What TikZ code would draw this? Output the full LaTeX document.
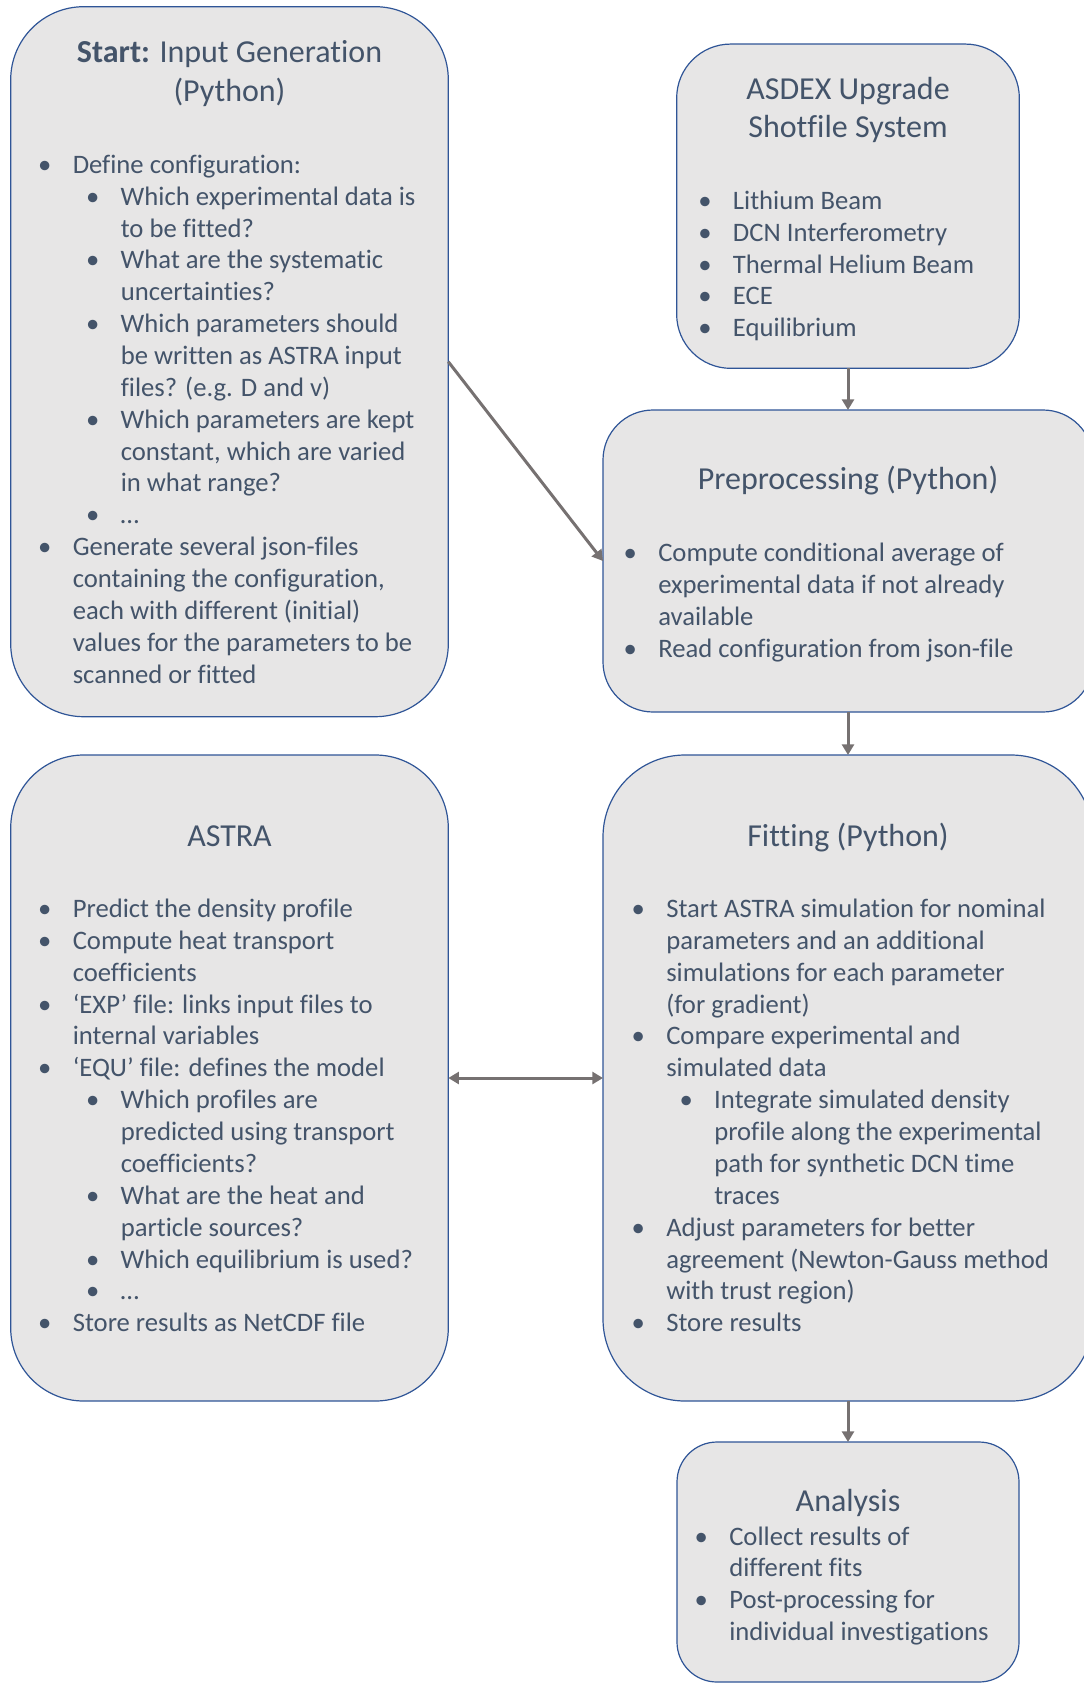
\documentclass[tikz,border=0pt]{standalone}
\usepackage{fontspec}
\setmainfont{Carlito}[Ligatures=NoCommon]
\usetikzlibrary{arrows.meta}
\definecolor{boxgray}{HTML}{E7E6E6}
\definecolor{boxblue}{HTML}{2F5597}
\definecolor{txtblue}{HTML}{44546A}
\definecolor{arrgray}{HTML}{767171}
\newcommand\bodyfont{\fontsize{20pt}{23.9pt}\selectfont}
\newcommand\headfont{\fontsize{24pt}{28.8pt}\selectfont}
\newcommand\lvla[1]{\par\leftskip=0pt\noindent\llap{\textbullet\hspace{16pt}}#1}
\newcommand\lvlb[1]{\par\leftskip=36pt\noindent\llap{\textbullet\hspace{16pt}}#1}
\newcommand\blist[1]{\parbox[t]{330pt}{\bodyfont\raggedright #1}}
\newcommand\bhead[1]{\parbox[t]{330pt}{\headfont\centering #1}}

\begin{document}
\begin{tikzpicture}[x=0.75pt, y=-0.75pt,
  box/.style={draw=boxblue, fill=boxgray, line width=0.9pt, inner sep=0pt, outer sep=0pt},
  txt/.style={inner sep=0pt, text=txtblue},
  arr/.style={draw=arrgray, line width=2.25pt, -{Triangle[length=8pt,width=9pt]}},
  darr/.style={arr, {Triangle[length=8pt,width=9pt]}-{Triangle[length=8pt,width=9pt]}}]
  \useasboundingbox (0,0) rectangle (1084,1684);

  % boxes
  \node[box, minimum width=328.2pt, minimum height=532.5pt, rounded corners=54.75pt] (start) at (229.5,361.7) {};
  \node[box, minimum width=257pt, minimum height=243.2pt, rounded corners=40.5pt] (asdex) at (848,206.2) {};
  \node[box, minimum width=367.5pt, minimum height=226.5pt, rounded corners=37.5pt] (prep) at (848,561) {};
  \node[box, minimum width=328.2pt, minimum height=484.5pt, rounded corners=54.75pt] (astra) at (229.5,1078) {};
  \node[box, minimum width=367.5pt, minimum height=484.5pt, rounded corners=61.5pt] (fit) at (848,1078) {};
  \node[box, minimum width=256.5pt, minimum height=180pt, rounded corners=30pt] (ana) at (848,1562) {};

  % texts
  \node[txt, anchor=base] (starttitle) at (229.5,62.7) {\bhead{\textbf{Start:} Input Generation\\(Python)}};
  \node[txt, anchor=base west] (startlist) at (72.5,173.3) {\blist{%
    \lvla{Define configuration:}
    \lvlb{Which experimental data is\\to be fitted?}
    \lvlb{What are the systematic\\uncertainties?}
    \lvlb{Which parameters should\\be written as ASTRA input\\files? (e.g. D and v)}
    \lvlb{Which parameters are kept\\constant, which are varied\\in what range?}
    \lvlb{…}
    \lvla{Generate several json-files\\containing the configuration,\\each with different (initial)\\values for the parameters to be\\scanned or fitted}}};

  \node[txt, anchor=base] (asdextitle) at (848,99) {\bhead{ASDEX Upgrade\\Shotfile System}};
  \node[txt, anchor=base west] (asdexlist) at (732.7,209.3) {\blist{%
    \lvla{Lithium Beam}
    \lvla{DCN Interferometry}
    \lvla{Thermal Helium Beam}
    \lvla{ECE}
    \lvla{Equilibrium}}};

  \node[txt, anchor=base] (preptitle) at (848,489.3) {\bhead{Preprocessing (Python)}};
  \node[txt, anchor=base west] (preplist) at (658,561.7) {\blist{%
    \lvla{Compute conditional average of\\experimental data if not already\\available}
    \lvla{Read configuration from json-file}}};

  \node[txt, anchor=base] (astratitle) at (229.5,846) {\bhead{ASTRA}};
  \node[txt, anchor=base west] (astralist) at (72.5,917.5) {\blist{%
    \lvla{Predict the density profile}
    \lvla{Compute heat transport\\coefficients}
    \lvla{‘EXP’ file: links input files to\\internal variables}
    \lvla{‘EQU’ file: defines the model}
    \lvlb{Which profiles are\\predicted using transport\\coefficients?}
    \lvlb{What are the heat and\\particle sources?}
    \lvlb{Which equilibrium is used?}
    \lvlb{…}
    \lvla{Store results as NetCDF file}}};

  \node[txt, anchor=base] (fittitle) at (848,846) {\bhead{Fitting (Python)}};
  \node[txt, anchor=base west] (fitlist) at (666,917.5) {\blist{%
    \lvla{Start ASTRA simulation for nominal\\parameters and an additional\\simulations for each parameter\\(for gradient)}
    \lvla{Compare experimental and\\simulated data}
    \lvlb{Integrate simulated density\\profile along the experimental\\path for synthetic DCN time\\traces}
    \lvla{Adjust parameters for better\\agreement (Newton-Gauss method\\with trust region)}
    \lvla{Store results}}};

  \node[txt, anchor=base] (anatitle) at (848,1511.7) {\bhead{Analysis}};
  \node[txt, anchor=base west] (analist) at (729,1545) {\blist{%
    \lvla{Collect results of\\different fits}
    \lvla{Post-processing for\\individual investigations}}};

  % connectors
  \draw[arr] (asdex) -- (prep);
  \draw[arr] (prep) -- (fit);
  \draw[arr] (fit) -- (ana);
  \draw[arr] (start.east) -- (prep.west);
  \draw[darr] (astra.east) -- (fit.west);
\end{tikzpicture}
\end{document}
